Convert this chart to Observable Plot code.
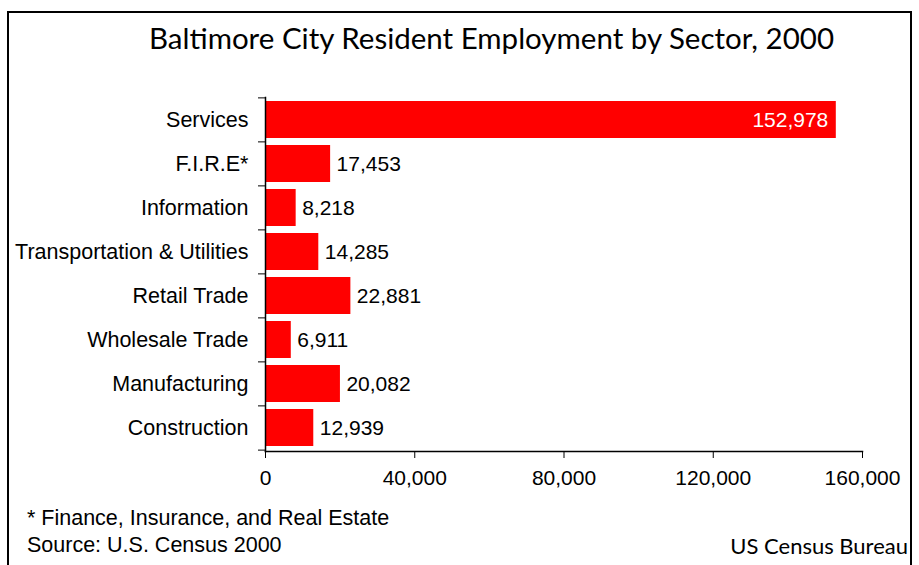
<!DOCTYPE html>
<html>
<head>
<meta charset="utf-8">
<script src="https://cdn.jsdelivr.net/npm/d3@7"></script>
<script src="https://cdn.jsdelivr.net/npm/@observablehq/plot@0.6"></script>
<style>
  html, body { margin: 0; padding: 0; background: #fff; }
  #wrap { position: relative; width: 919px; height: 565px; overflow: hidden; }
  #border { position: absolute; left: 7px; top: 11px; width: 905px; height: 570px; border: 2px solid #000; box-sizing: border-box; }
  #chart { position: absolute; left: 0; top: 0; }
  .t { position: absolute; white-space: nowrap; color: #000; line-height: 1; }
  #title { left: 0; width: 983px; text-align: center; top: 23px; font-family: Lato, "Open Sans", sans-serif; font-size: 29.5px; }
  #note { left: 27px; top: 508px; font-family: "Liberation Sans", Arial, sans-serif; font-size: 21.5px; }
  #source { left: 27px; top: 535px; font-family: "Liberation Sans", Arial, sans-serif; font-size: 21.5px; }
  #credit { right: 11px; top: 535px; font-family: Lato, sans-serif; font-size: 22px; }
</style>
</head>
<body>
<div id="wrap">
  <div id="chart"></div>
  <div id="border"></div>
  <div class="t" id="title">Baltimore City Resident Employment by Sector, 2000</div>
  <div class="t" id="note">* Finance, Insurance, and Real Estate</div>
  <div class="t" id="source">Source: U.S. Census 2000</div>
  <div class="t" id="credit">US Census Bureau</div>
</div>
<script>
const sectors = ["Services", "F.I.R.E*", "Information", "Transportation & Utilities", "Retail Trade", "Wholesale Trade", "Manufacturing", "Construction"];
const employment = [152978, 17453, 8218, 14285, 22881, 6911, 20082, 12939];
const xTicks = [0, 40000, 80000, 120000, 160000];

const data = sectors.map((s, i) => ({sector: s, value: employment[i]}));
const fmt = d3.format(",");

const W = 919, H = 565, mT = 97, mB = 114, mL = 265, mR = 57;
const pIn = 0.155, pOut = 0.078;
const step = (H - mT - mB) / (sectors.length - pIn + 2 * pOut);
const font = "Liberation Sans, Arial, sans-serif";

const chart = Plot.plot({
  width: W,
  height: H,
  marginTop: mT,
  marginBottom: mB,
  marginLeft: mL,
  marginRight: mR,
  style: {fontFamily: font, fontSize: "21px", color: "#000", background: "transparent"},
  x: {domain: [0, 160000], ticks: xTicks, tickFormat: fmt},
  y: {domain: sectors, paddingInner: pIn, paddingOuter: pOut, align: 0.5},
  marks: [
    Plot.barX(data, {x: "value", y: "sector", fill: "#ff0000"}),
    Plot.text(data.filter(d => d.value > 100000), {x: "value", y: "sector", text: d => fmt(d.value), textAnchor: "end", dx: -8, fill: "#fff", fontSize: 21}),
    Plot.text(data.filter(d => d.value <= 100000), {x: "value", y: "sector", text: d => fmt(d.value), textAnchor: "start", dx: 6, fill: "#000", fontSize: 21}),
    Plot.axisY({tickSize: 0, tickPadding: 17, label: null, fontSize: 21.5}),
    Plot.axisY({tickSize: 7, tickFormat: () => "", dy: -step / 2, label: null}),
    Plot.axisY({ticks: [sectors[sectors.length - 1]], tickSize: 7, tickFormat: () => "", dy: step / 2, label: null}),
    Plot.axisX({ticks: xTicks, tickFormat: fmt, tickSize: 7, tickPadding: 12, label: null, fontSize: 21}),
    Plot.frame({anchor: "left", stroke: "#000", strokeWidth: 1.5}),
    Plot.frame({anchor: "bottom", stroke: "#000", strokeWidth: 1.5})
  ]
});
document.getElementById("chart").appendChild(chart);
</script>
</body>
</html>
